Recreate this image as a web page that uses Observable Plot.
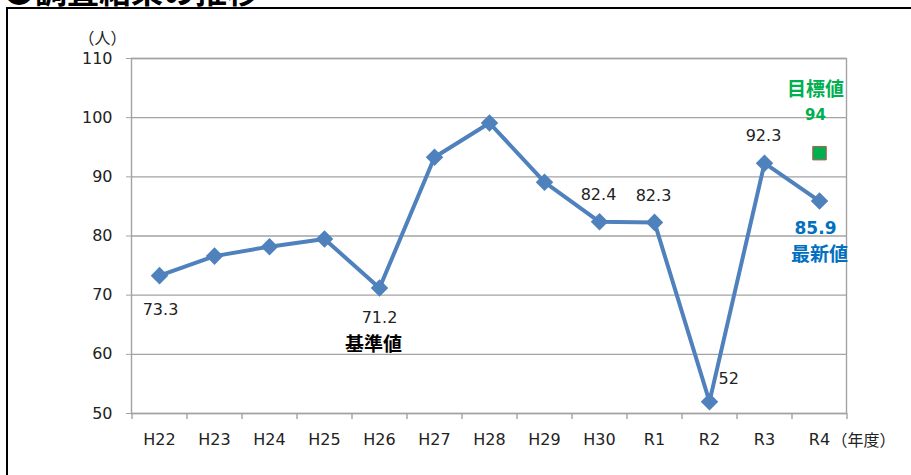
<!DOCTYPE html>
<html>
<head>
<meta charset="utf-8">
<script src="https://cdn.jsdelivr.net/npm/d3@7"></script>
<script src="https://cdn.jsdelivr.net/npm/@observablehq/plot@0.6"></script>
<style>
  html, body { margin: 0; padding: 0; background: #fff; overflow: hidden; }
  #wrap { position: relative; width: 911px; height: 475px; overflow: hidden; }
  #title { position: absolute; left: 3px; top: -27px; font: bold 32px/32px "Noto Sans CJK JP", sans-serif; color: #000; white-space: nowrap; }
  #box { position: absolute; left: 6px; top: 7px; width: 920px; height: 480px; border-left: 2px solid #000; border-top: 2px solid #000; }
  #chart { position: absolute; left: 0; top: 0; }
</style>
</head>
<body>
<div id="wrap">
  <div id="title">●調査結果の推移</div>
  <div id="box"></div>
  <div id="chart"></div>
</div>
<script>
const years = ["H22","H23","H24","H25","H26","H27","H28","H29","H30","R1","R2","R3","R4"];
const values = [73.3, 76.6, 78.2, 79.5, 71.2, 93.3, 99.1, 89.1, 82.4, 82.3, 52, 92.3, 85.9];
const yTicks = [50, 60, 70, 80, 90, 100, 110];
const targetYear = "R4";
const targetValue = 94;
const yUnit = "（人）";
const xUnit = "（年度）";

const data = years.map((year, i) => ({year, value: values[i]}));
const pick = (names) => data.filter(d => names.includes(d.year));
const fmt = d => String(d.value);

const W = 911, H = 475, mL = 131, mR = 65, mT = 58, mB = 62;
const step = (W - mL - mR) / years.length;
const grid = "#a3a3a3";
const blue = "#4f81bd";
const txt = "#222";
const green = "#00b050";
const newBlue = "#0070c0";
const latin = "'DejaVu Sans', 'Noto Sans CJK JP', sans-serif";
const cjk = "'Noto Sans CJK JP', sans-serif";

const chart = Plot.plot({
  width: W, height: H,
  marginLeft: mL, marginRight: mR, marginTop: mT, marginBottom: mB,
  style: {fontFamily: latin, fontSize: "16px", background: "transparent", overflow: "visible"},
  x: {type: "point", domain: years, padding: 0.5, align: 0.5},
  y: {domain: [50, 110]},
  marks: [
    Plot.ruleY(yTicks, {stroke: grid, strokeWidth: 1.4}),
    Plot.frame({stroke: grid, strokeWidth: 1.4}),
    Plot.ruleX(years, {x: d => d, dx: -step / 2, y1: 50, y2: 50, insetBottom: -6, stroke: grid, strokeWidth: 1.4}),
    Plot.ruleX(years.slice(-1), {x: d => d, dx: step / 2, y1: 50, y2: 50, insetBottom: -6, stroke: grid, strokeWidth: 1.4}),
    Plot.axisY(yTicks, {tickSize: 5, tickPadding: 14, stroke: grid, fill: txt, label: null, fontSize: 16}),
    Plot.axisX({tickSize: 0, tickPadding: 20, fill: txt, label: null, fontSize: 16}),
    Plot.line(data, {x: "year", y: "value", stroke: blue, strokeWidth: 4, strokeLinejoin: "round"}),
    Plot.dot(data, {x: "year", y: "value", symbol: "diamond2", r: 7.9, fill: blue, stroke: null}),
    // value labels
    Plot.text(pick(["H22"]), {x: "year", y: "value", text: fmt, dy: 34, dx: 1, fill: txt, fontSize: 16}),
    Plot.text(pick(["H26"]), {x: "year", y: "value", text: fmt, dy: 30, fill: txt, fontSize: 16}),
    Plot.text(pick(["H26"]), {x: "year", y: "value", text: () => "基準値", dy: 57, dx: -6, fill: "#000", fontSize: 19, fontWeight: "bold", fontFamily: cjk}),
    Plot.text(pick(["H30", "R1", "R3"]), {x: "year", y: "value", text: fmt, dy: -27, dx: -1, fill: txt, fontSize: 16}),
    Plot.text(pick(["R2"]), {x: "year", y: "value", text: fmt, dy: -23, dx: 9, textAnchor: "start", fill: txt, fontSize: 16}),
    Plot.text(pick(["R4"]), {x: "year", y: "value", text: fmt, dy: 27, dx: -4, fill: newBlue, fontSize: 17, fontWeight: "bold"}),
    Plot.text(pick(["R4"]), {x: "year", y: "value", text: () => "最新値", dy: 54, dx: 0, fill: newBlue, fontSize: 19, fontWeight: "bold", fontFamily: cjk}),
    // target
    Plot.dot([{year: targetYear, value: targetValue}], {x: "year", y: "value", symbol: "square", r: 7.6, fill: green, stroke: "#c0504d", strokeWidth: 1}),
    Plot.text([{year: targetYear, value: targetValue}], {x: "year", y: "value", text: fmt, dy: -38, dx: -4, fill: green, fontSize: 15, fontWeight: "bold"}),
    Plot.text([{year: targetYear, value: targetValue}], {x: "year", y: "value", text: () => "目標値", dy: -63, dx: -4, fill: green, fontSize: 19, fontWeight: "bold", fontFamily: cjk}),
    // unit labels
    Plot.text([yUnit], {frameAnchor: "top-left", text: d => d, dx: -29, dy: -20, textAnchor: "middle", lineAnchor: "middle", fill: txt, fontSize: 16, fontFamily: cjk}),
    Plot.text([xUnit], {frameAnchor: "bottom-right", text: d => d, dx: -15, dy: 27, textAnchor: "start", lineAnchor: "middle", fill: txt, fontSize: 16, fontFamily: cjk})
  ]
});
document.getElementById("chart").appendChild(chart);
</script>
</body>
</html>
